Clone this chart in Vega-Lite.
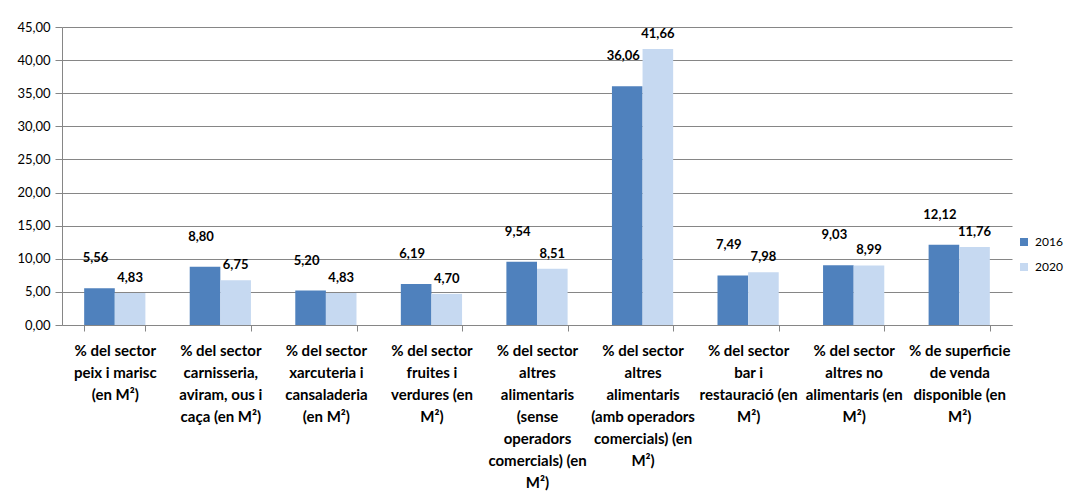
{
  "$schema": "https://vega.github.io/schema/vega-lite/v6.json",
  "width": 950,
  "height": 298,
  "autosize": {"type": "none"},
  "padding": {"left": 62, "top": 27, "right": 55, "bottom": 167},
  "background": "white",
  "config": {
    "locale": {"number": {"decimal": ",", "thousands": ".", "grouping": [3], "currency": ["", " €"]}},
    "view": {"stroke": null},
    "font": "Lato"
  },
  "data": {
    "values": [
      {"cat": "% del sector|peix i marisc|(en M²)", "year": "2016", "value": 5.56},
      {"cat": "% del sector|peix i marisc|(en M²)", "year": "2020", "value": 4.83},
      {"cat": "% del sector|carnisseria,|aviram, ous i|caça (en M²)", "year": "2016", "value": 8.80},
      {"cat": "% del sector|carnisseria,|aviram, ous i|caça (en M²)", "year": "2020", "value": 6.75},
      {"cat": "% del sector|xarcuteria i|cansaladeria|(en M²)", "year": "2016", "value": 5.20},
      {"cat": "% del sector|xarcuteria i|cansaladeria|(en M²)", "year": "2020", "value": 4.83},
      {"cat": "% del sector|fruites i|verdures (en|M²)", "year": "2016", "value": 6.19},
      {"cat": "% del sector|fruites i|verdures (en|M²)", "year": "2020", "value": 4.70},
      {"cat": "% del sector|altres|alimentaris|(sense|operadors|comercials) (en|M²)", "year": "2016", "value": 9.54},
      {"cat": "% del sector|altres|alimentaris|(sense|operadors|comercials) (en|M²)", "year": "2020", "value": 8.51},
      {"cat": "% del sector|altres|alimentaris|(amb operadors|comercials) (en|M²)", "year": "2016", "value": 36.06},
      {"cat": "% del sector|altres|alimentaris|(amb operadors|comercials) (en|M²)", "year": "2020", "value": 41.66},
      {"cat": "% del sector|bar i|restauració (en|M²)", "year": "2016", "value": 7.49},
      {"cat": "% del sector|bar i|restauració (en|M²)", "year": "2020", "value": 7.98},
      {"cat": "% del sector|altres no|alimentaris (en|M²)", "year": "2016", "value": 9.03},
      {"cat": "% del sector|altres no|alimentaris (en|M²)", "year": "2020", "value": 8.99},
      {"cat": "% de superficie|de venda|disponible (en|M²)", "year": "2016", "value": 12.12},
      {"cat": "% de superficie|de venda|disponible (en|M²)", "year": "2020", "value": 11.76}
    ]
  },
  "encoding": {
    "x": {
      "field": "cat",
      "type": "nominal",
      "sort": null,
      "scale": {"paddingInner": 0.42, "paddingOuter": 0.21},
      "axis": {
        "title": null,
        "labelAngle": 0,
        "labelExpr": "split(datum.label, '|')",
        "labelFontSize": 15,
        "labelFontWeight": "bold",
        "labelColor": "#000000",
        "labelLineHeight": 22,
        "labelBaseline": "top",
        "labelPadding": 12,
        "labelLimit": 300,
        "tickBand": "extent",
        "tickSize": 6,
        "tickColor": "#868686",
        "domainColor": "#868686",
        "grid": false
      }
    },
    "xOffset": {"field": "year", "type": "nominal", "scale": {"paddingInner": 0, "paddingOuter": 0}},
    "y": {
      "field": "value",
      "type": "quantitative",
      "scale": {"domain": [0, 45], "nice": false},
      "axis": {
        "title": null,
        "values": [0, 5, 10, 15, 20, 25, 30, 35, 40, 45],
        "format": ".2f",
        "labelFontSize": 13,
        "labelColor": "#000000",
        "labelPadding": 5,
        "tickSize": 7,
        "tickColor": "#868686",
        "domainColor": "#868686",
        "grid": true,
        "gridColor": "#868686",
        "gridWidth": 1
      }
    }
  },
  "layer": [
    {
      "mark": {"type": "bar"},
      "encoding": {
        "color": {
          "field": "year",
          "type": "nominal",
          "scale": {"domain": ["2016", "2020"], "range": ["#4F81BD", "#C6D9F1"]},
          "legend": {
            "title": null,
            "orient": "none",
            "legendX": 956,
            "legendY": 209,
            "symbolType": "square",
            "symbolSize": 64,
            "symbolStrokeWidth": 0,
            "labelFontSize": 12,
            "labelColor": "#000000",
            "labelOffset": 5,
            "rowPadding": 13,
            "padding": 0
          }
        }
      }
    },
    {
      "transform": [{"filter": "datum.year == '2016'"}],
      "mark": {"type": "text", "dy": -30, "dx": -4, "fontWeight": "bold", "fontSize": 13, "color": "#000000"},
      "encoding": {"text": {"field": "value", "type": "quantitative", "format": ".2f"}}
    },
    {
      "transform": [{"filter": "datum.year == '2020'"}],
      "mark": {"type": "text", "dy": -15, "fontWeight": "bold", "fontSize": 13, "color": "#000000"},
      "encoding": {"text": {"field": "value", "type": "quantitative", "format": ".2f"}}
    }
  ]
}
